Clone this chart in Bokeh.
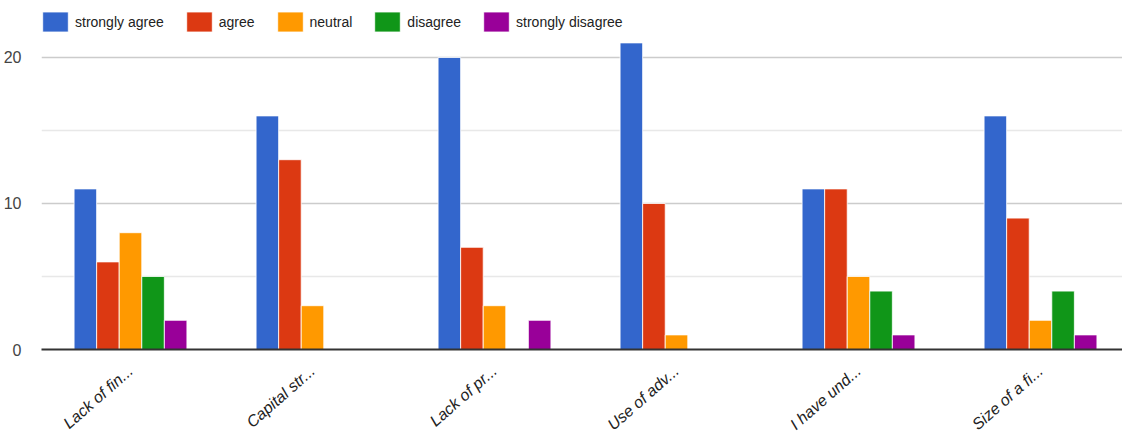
from bokeh.plotting import figure
from bokeh.models import ColumnDataSource, FixedTicker, Legend, LegendItem, Range1d
from bokeh.embed import file_html
from bokeh.resources import INLINE

categories = ["Lack of fin...", "Capital str...", "Lack of pr...", "Use of adv...", "I have und...", "Size of a fi..."]
series = ["strongly agree", "agree", "neutral", "disagree", "strongly disagree"]
strongly_agree = [11, 16, 20, 21, 11, 16]
agree = [6, 13, 7, 10, 11, 9]
neutral = [8, 3, 3, 1, 5, 2]
disagree = [5, 0, 0, 0, 4, 4]
strongly_disagree = [2, 0, 2, 0, 1, 1]
values = [strongly_agree, agree, neutral, disagree, strongly_disagree]
colors = ["#3366cc", "#dc3912", "#ff9900", "#109618", "#990099"]
y_ticks = [0, 10, 20]
y_minor = [5, 15]

FONT = "Liberation Sans"

p = figure(width=1122, height=434, frame_width=1082, frame_height=345,
           output_backend="svg", toolbar_location=None,
           x_range=Range1d(0.011, 5.956), y_range=Range1d(0, 23.63),
           min_border_left=40, min_border_right=0, min_border_top=4, min_border_bottom=85)
p.outline_line_color = None

bw = 0.124
centers = [i + 0.5 for i in range(len(categories))]
items = []
for k, (name, vals, c) in enumerate(zip(series, values, colors)):
    xs = [cx + (k - 2) * bw for cx in centers]
    src = ColumnDataSource(dict(x=xs, top=vals))
    r = p.vbar(x="x", top="top", width=bw, source=src, fill_color=c,
               line_color="white", line_width=1, line_alpha=0.8)
    items.append(LegendItem(label=name, renderers=[r]))

legend = Legend(items=items, orientation="horizontal", location=(-2, 315),
                label_text_font=FONT, label_text_font_size="14px", label_text_color="#222222",
                glyph_width=32, glyph_height=25, label_standoff=4, spacing=19,
                padding=0, margin=0, border_line_color=None, background_fill_alpha=0,
                label_height=25)
p.add_layout(legend)

p.xaxis.ticker = FixedTicker(ticks=centers)
p.xaxis.major_label_overrides = {c: lab for c, lab in zip(centers, categories)}
p.xaxis.major_label_orientation = 0.72
p.xaxis.major_label_text_font = FONT
p.xaxis.major_label_text_font_style = "italic"
p.xaxis.major_label_text_font_size = "16px"
p.xaxis.major_label_text_color = "#222222"
p.xaxis.major_tick_line_color = None
p.xaxis.minor_tick_line_color = None
p.xaxis.axis_line_color = "#333333"
p.xaxis.axis_line_width = 2
p.xaxis.major_label_standoff = 13

p.yaxis.ticker = FixedTicker(ticks=y_ticks, minor_ticks=y_minor)
p.yaxis.major_label_text_font = FONT
p.yaxis.major_label_text_font_size = "16px"
p.yaxis.major_label_text_color = "#444444"
p.yaxis.major_tick_line_color = None
p.yaxis.minor_tick_line_color = None
p.yaxis.axis_line_color = None
p.yaxis.major_label_standoff = 14

p.xgrid.grid_line_color = None
p.ygrid.grid_line_color = "#cccccc"
p.ygrid.grid_line_width = 1.5
p.ygrid.minor_grid_line_color = "#e8e8e8"
p.ygrid.minor_grid_line_width = 1.5

open("out.html", "w").write(file_html(p, INLINE))
